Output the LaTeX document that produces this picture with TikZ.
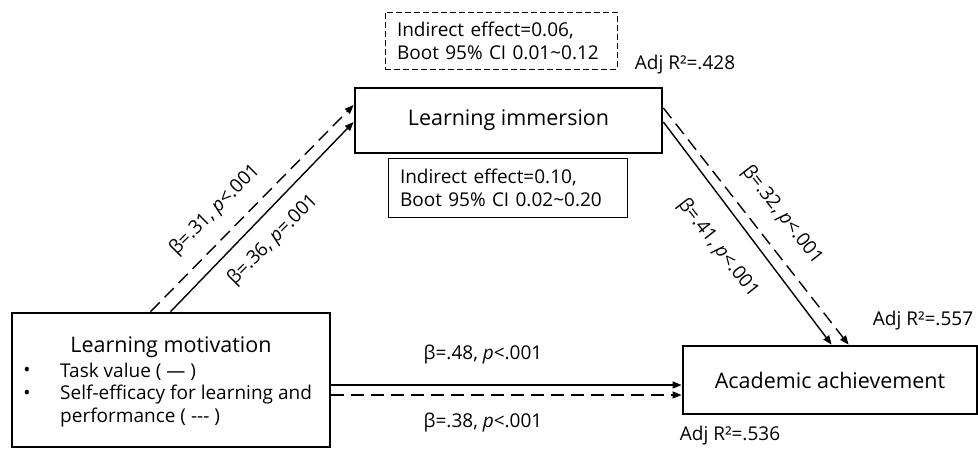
\documentclass[tikz,border=0pt]{standalone}
\usepackage{fontspec}
\setmainfont{Open Sans}
\usetikzlibrary{arrows.meta}
\begin{document}
\begin{tikzpicture}[x=1pt,y=-1pt,
  varbox/.style={draw,line width=2.8pt,inner sep=0pt,font=\fontsize{21.5}{25}\selectfont},
  effbox/.style={draw,line width=0.8pt,inner xsep=12pt,inner ysep=0pt,align=left,font=\fontsize{19}{23}\selectfont},
  lbl/.style={inner sep=0pt,font=\fontsize{19}{23}\selectfont},
  arr/.style={line width=1.4pt,-{Triangle[length=9pt,width=7pt]}},
  darr/.style={arr,dash pattern=on 13pt off 7pt}]
\useasboundingbox (0,0) rectangle (978,448);
% variables
\node[varbox,minimum width=307pt,minimum height=65pt] (immers) at (508.5,120.5) {Learning immersion};
\node[varbox,minimum width=318pt,minimum height=134pt] (motiv) at (171,380) {};
\node[varbox,minimum width=294pt,minimum height=68pt] (achieve) at (830,380) {Academic achievement};
\node[lbl,font=\fontsize{21.5}{25}\selectfont] (motivtitle) at (171,347) {Learning motivation};
\node[lbl] (bulla) at (27,372) {\textbullet};
\node[lbl] (bullb) at (27,395) {\textbullet};
\node[lbl,anchor=west] (itema) at (60,372) {Task value ( — )};
\node[lbl,anchor=west] (itemb) at (60,395) {Self-efficacy for learning and};
\node[lbl,anchor=west] (itemc) at (60,418) {performance ( -{}-{}- )};
% indirect effects
\node[effbox,dash pattern=on 6pt off 3pt,text width=208pt,minimum height=57pt] (indself) at (501,40.5) {Indirect effect=0.06,\\Boot 95\% CI 0.01\textasciitilde0.12};
\node[effbox,text width=215pt,minimum height=59pt] (indtask) at (507.5,187.5) {Indirect effect=0.10,\\Boot 95\% CI 0.02\textasciitilde0.20};
% paths
\draw[darr] ([xshift=140pt]motiv.north west) -- ([yshift=15.5pt]immers.west);
\draw[arr] ([xshift=160pt]motiv.north west) -- ([yshift=-1.5pt]immers.west);
\draw[darr] ([yshift=12.5pt]immers.east) -- ([xshift=167pt]achieve.north west);
\draw[arr] ([yshift=-1.5pt]immers.east) -- ([xshift=150pt]achieve.north west);
\draw[arr] ([yshift=-5pt]motiv.east) -- ([yshift=-5pt]achieve.west);
\draw[darr] ([yshift=-15pt]motiv.east) -- ([yshift=-15pt]achieve.west);
% coefficients
\node[lbl,rotate=45] (bself) at (215,210) {β=.31, \textit{p}<.001};
\node[lbl,rotate=45] (btask) at (273,240) {β=.36, \textit{p}=.001};
\node[lbl,rotate=-52] (bimself) at (782,215) {β=.32, \textit{p}<.001};
\node[lbl,rotate=-52] (bimtask) at (718,248) {β=.41, \textit{p}<.001};
\node[lbl] (bdirtask) at (483,355) {β=.48, \textit{p}<.001};
\node[lbl] (bdirself) at (483,423) {β=.38, \textit{p}<.001};
\node[lbl] (rimmers) at (685,65) {Adj R²=.428};
\node[lbl] (rachtask) at (923,321) {Adj R²=.557};
\node[lbl] (rachself) at (730,436) {Adj R²=.536};
\end{tikzpicture}
\end{document}
